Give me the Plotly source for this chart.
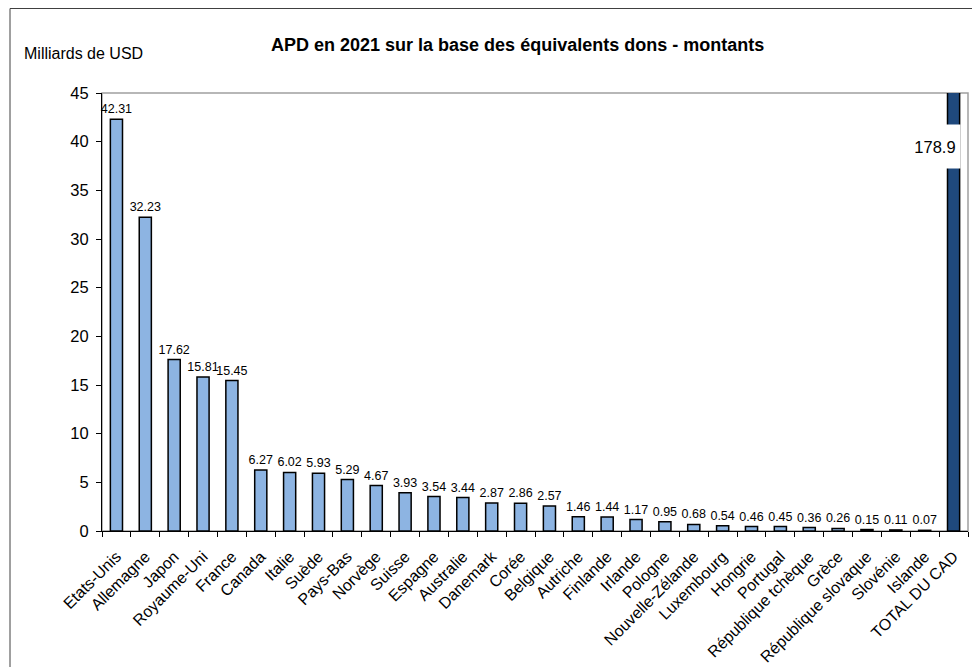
import plotly.graph_objects as go

countries = ["Etats-Unis", "Allemagne", "Japon", "Royaume-Uni", "France", "Canada", "Italie",
             "Suède", "Pays-Bas", "Norvège", "Suisse", "Espagne", "Australie", "Danemark",
             "Corée", "Belgique", "Autriche", "Finlande", "Irlande", "Pologne",
             "Nouvelle-Zélande", "Luxembourg", "Hongrie", "Portugal", "République tchèque",
             "Grèce", "République slovaque", "Slovénie", "Islande"]
values = [42.31, 32.23, 17.62, 15.81, 15.45, 6.27, 6.02, 5.93, 5.29, 4.67, 3.93, 3.54, 3.44,
          2.87, 2.86, 2.57, 1.46, 1.44, 1.17, 0.95, 0.68, 0.54, 0.46, 0.45, 0.36, 0.26,
          0.15, 0.11, 0.07]
total_label = "TOTAL DU CAD"
total_value = 178.9
y_ticks = [0, 5, 10, 15, 20, 25, 30, 35, 40, 45]

FONT = "Liberation Sans, Arial, sans-serif"
W, H = 972, 667
L, R, T, B = 102, 4, 93, 136
pw, ph = W - L - R, H - T - B

def px_x(px):
    return (px - L) / pw

def px_y(py):
    return (H - B - py) / ph

fig = go.Figure()
fig.add_trace(go.Bar(
    x=countries, y=values,
    marker=dict(color="#8DB4E2", line=dict(color="black", width=1.5)),
    width=0.42,
    text=[f"{v:.2f}" for v in values], textposition="outside",
    constraintext="none",
    textfont=dict(family=FONT, size=12.5, color="black"),
    outsidetextfont=dict(family=FONT, size=12.5, color="black"),
    cliponaxis=False,
))
fig.add_trace(go.Bar(
    x=[total_label], y=[total_value],
    marker=dict(color="#1F497D", line=dict(color="black", width=1.5)),
    width=0.42,
))

# value label of the clipped total bar, with a white box breaking the bar
fig.add_annotation(
    x=total_label, y=39.5, xref="x", yref="y",
    text="178.9", showarrow=False, xshift=-19,
    font=dict(family=FONT, size=16.5, color="black"),
    bgcolor="white", borderpad=0, width=50, height=43,
)

# outer frame of the chart
fig.add_shape(type="rect", xref="paper", yref="paper",
              x0=px_x(10), x1=px_x(990), y0=px_y(690), y1=px_y(8.5),
              line=dict(color="#404040", width=1), layer="below")
# plot area frame
fig.add_shape(type="rect", xref="paper", yref="paper",
              x0=0, x1=1, y0=0, y1=1,
              line=dict(color="#A0A0A0", width=1.5), layer="below")

fig.add_annotation(x=px_x(22), y=px_y(53), xref="paper", yref="paper",
                   text="Milliards de USD", showarrow=False,
                   xanchor="left", yanchor="middle",
                   font=dict(family=FONT, size=16, color="black"))
fig.add_annotation(x=px_x(517), y=px_y(45), xref="paper", yref="paper",
                   text="<b>APD en 2021 sur la base des équivalents dons - montants</b>",
                   showarrow=False, xanchor="center", yanchor="middle",
                   font=dict(family=FONT, size=18, color="black"))

fig.update_layout(
    width=W, height=H,
    margin=dict(l=L, r=R, t=T, b=B),
    paper_bgcolor="white", plot_bgcolor="white",
    showlegend=False, barmode="overlay",
    font=dict(family=FONT, color="black"),
)
fig.update_xaxes(
    type="category", showline=True, linecolor="black", linewidth=1,
    ticks="outside", tickson="boundaries", ticklen=5, tickcolor="black",
    tickangle=-45, tickfont=dict(family=FONT, size=16, color="black"),
    ticklabelstandoff=9, automargin=False,
    showgrid=False, zeroline=False,
)
fig.update_yaxes(
    range=[0, 45], tickvals=y_ticks, showline=True, linecolor="black", linewidth=1,
    ticks="outside", ticklen=5, tickcolor="black",
    tickfont=dict(family=FONT, size=16.5, color="black"),
    ticklabelstandoff=4, automargin=False,
    showgrid=False, zeroline=False,
)

fig.write_html("out.html", config={"displayModeBar": False},
               post_script="document.body.style.margin='0';document.body.style.overflow='hidden';")
